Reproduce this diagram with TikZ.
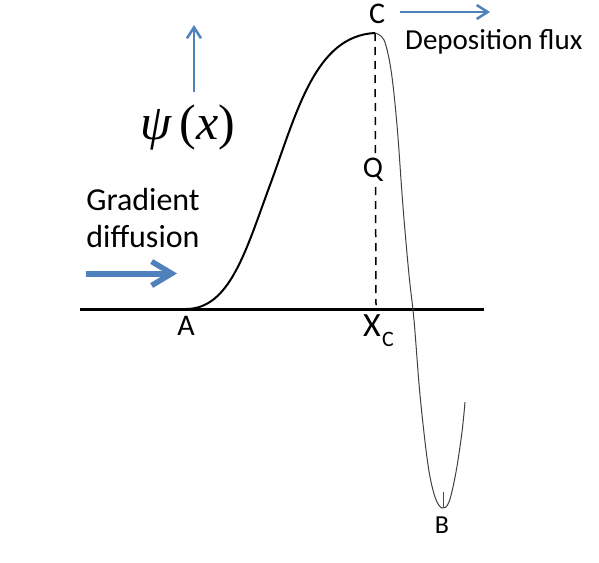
\documentclass[tikz,border=0pt]{standalone}
\usepackage{fontspec}
\setmainfont{Carlito}
\newfontfamily\timesf{Liberation Serif}
\usetikzlibrary{arrows.meta}
\definecolor{officeblue}{HTML}{4F81BD}
\tikzset{
  lbl/.style={inner sep=0pt, font=\fontsize{30}{34}\selectfont},
  bluearrow/.style={draw=officeblue, -{Straight Barb[length=11pt,width=14pt,line width=2.5pt]}, line width=2.5pt},
}
\begin{document}
\begin{tikzpicture}[x=1pt,y=-1pt]
\useasboundingbox (0,0) rectangle (599,562);
% axis
\coordinate (axL) at (80,309);
\coordinate (axR) at (484,309);
\draw[line width=3pt] (axL) -- (axR);
% dashed line
\coordinate (peak) at (375,33);
\coordinate (xc) at (376,305);
\draw[line width=1.5pt, dash pattern=on 8pt off 6pt] (peak) -- (xc);
% left curve
\coordinate (A0) at (186,309);
\draw[line width=2pt] (A0) .. controls (230,309) and (246,250) .. (270,185)
  .. controls (297,112) and (315,36) .. (peak);
% right curve
\draw[line width=1pt, draw=black!75] plot[smooth, tension=0.55] coordinates {
 (375,33) (384,40) (391,70) (397,125) (403,207) (409,275) (414,320) (420,395) (428,465) (435,497) (442,508) (449,502) (456,472) (462,432) (465,402)};
\coordinate (Bt1) at (443,492);
\coordinate (Bt2) at (443,508);
\draw[line width=0.8pt, draw=black!70] (Bt1) -- (Bt2);
% labels
\node[lbl] (C) at (377,14) {C};
\node[lbl, fill=white, inner sep=2pt] (Q) at (373,170) {Q};
\node[lbl] (A) at (186,326) {A};
\node[inner sep=0pt, font=\fontsize{34}{38}\selectfont] (X) at (372,326) {X};
\node[inner sep=0pt, font=\fontsize{22}{26}\selectfont] (Xs) at (388,339) {C};
\node[lbl, font=\fontsize{26}{30}\selectfont] (B) at (442,525) {B};
\node[inner sep=0pt, font=\fontsize{29}{34}\selectfont, anchor=west] (dep) at (405,42) {Deposition flux};
\node[inner sep=0pt, font=\fontsize{32}{37}\selectfont, align=center] (grad) at (143,218) {Gradient\\diffusion};
\node[inner sep=0pt, font=\timesf\fontsize{50}{54}\selectfont] (psi) at (188,127) {\itshape ψ\,\upshape(\itshape x\upshape)};
% arrows
\coordinate (u1) at (194,92);
\coordinate (u2) at (194,25);
\draw[bluearrow] (u1) -- (u2);
\coordinate (d1) at (400,12);
\coordinate (d2) at (490,12);
\draw[bluearrow] (d1) -- (d2);
\coordinate (g1) at (86,273.5);
\coordinate (g2) at (177,273.5);
\draw[draw=officeblue, line width=6pt, -{Straight Barb[length=20pt,width=24pt,line width=5.5pt]}] (g1) -- (g2);
\end{tikzpicture}
\end{document}
